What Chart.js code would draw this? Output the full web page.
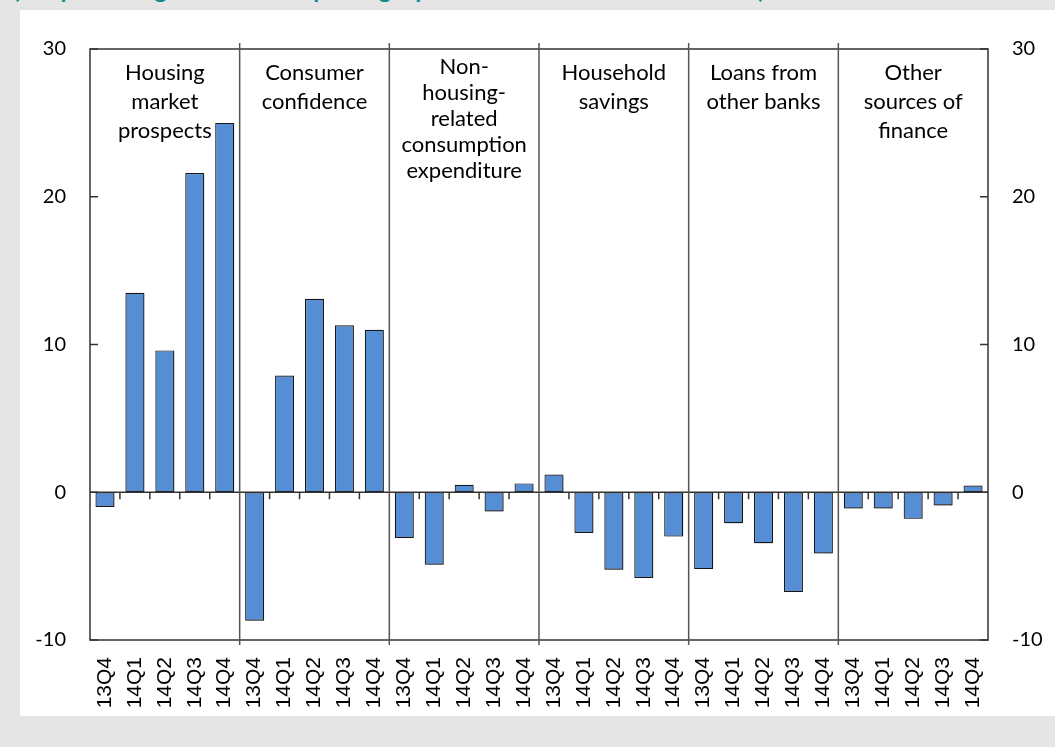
<!DOCTYPE html>
<html>
<head>
<meta charset="utf-8">
<script src="https://cdn.jsdelivr.net/npm/chart.js@4.4.0/dist/chart.umd.min.js"></script>
<style>
  html, body { margin: 0; padding: 0; }
  body { width: 1055px; height: 747px; background: #e5e5e5; position: relative; overflow: hidden; }
  #title { position: absolute; left: 13px; top: -23px; font: bold 24px Lato, sans-serif; line-height: 24px; color: #14898c; white-space: nowrap; }
  #panel { position: absolute; left: 20px; top: 10px; width: 1035px; height: 706px; background: #fff; }
</style>
</head>
<body>
<div id="title">(net percentages of banks reporting a positive contribution to demand)</div>
<div id="panel"><canvas id="chart" width="1035" height="706"></canvas></div>
<script>
// quarters repeat inside every factor group
const quarters = ['13Q4', '14Q1', '14Q2', '14Q3', '14Q4'];
const groupNames = [
    ['Housing', 'market', 'prospects'],
    ['Consumer', 'confidence'],
    ['Non-', 'housing-', 'related', 'consumption', 'expenditure'],
    ['Household', 'savings'],
    ['Loans from', 'other banks'],
    ['Other', 'sources of', 'finance']
];
const housingProspects = [-1.0, 13.5, 9.6, 21.6, 25.0];
const consumerConfidence = [-8.7, 7.9, 13.1, 11.3, 11.0];
const nonHousingConsumption = [-3.1, -4.9, 0.5, -1.3, 0.6];
const householdSavings = [1.2, -2.75, -5.25, -5.8, -3.0];
const loansOtherBanks = [-5.2, -2.1, -3.45, -6.75, -4.15];
const otherFinance = [-1.1, -1.1, -1.8, -0.9, 0.45];
const yTicks = [-10, 0, 10, 20, 30];

const groups = [housingProspects, consumerConfidence, nonHousingConsumption,
    householdSavings, loansOtherBanks, otherFinance];
const labels = groups.flatMap(() => quarters);
const values = groups.flat();

const AXIS = '#333333';

// inner tick marks, group separators, zero line and group titles
const decorPlugin = {
    id: 'decor',
    beforeDatasetsDraw(chart) {
        const ctx = chart.ctx;
        ctx.save();
        ctx.shadowColor = 'rgba(0,0,0,0.35)';
        ctx.shadowBlur = 3;
        ctx.shadowOffsetX = 1.5;
        ctx.shadowOffsetY = 1.5;
    },
    afterDatasetsDraw(chart) {
        const ctx = chart.ctx;
        ctx.restore();
        const a = chart.chartArea;
        const x = chart.scales.x;
        const y = chart.scales.y;
        const zero = y.getPixelForValue(0);
        const half = (x.getPixelForValue(1) - x.getPixelForValue(0)) / 2;

        ctx.save();
        ctx.strokeStyle = AXIS;
        ctx.lineWidth = 1.5;

        // plot box
        ctx.strokeRect(a.left, a.top, a.right - a.left, a.bottom - a.top);

        // zero line
        ctx.beginPath();
        ctx.moveTo(a.left, zero);
        ctx.lineTo(a.right, zero);
        ctx.stroke();

        // y ticks, inside on both sides
        yTicks.forEach(v => {
            const py = y.getPixelForValue(v);
            ctx.beginPath();
            ctx.moveTo(a.left, py); ctx.lineTo(a.left + 8, py);
            ctx.moveTo(a.right, py); ctx.lineTo(a.right - 8, py);
            ctx.stroke();
        });

        // category boundaries
        for (let i = 1; i < labels.length; i++) {
            const px = x.getPixelForValue(i) - half;
            ctx.beginPath();
            if (i % quarters.length === 0) {
                ctx.strokeStyle = '#555555';
                ctx.moveTo(px, a.top - 6);
                ctx.lineTo(px, a.bottom + 5);
            } else {
                ctx.strokeStyle = AXIS;
                ctx.moveTo(px, zero);
                ctx.lineTo(px, zero + 7);
            }
            ctx.stroke();
        }

        // group titles
        ctx.fillStyle = '#000';
        ctx.font = '22px Lato';
        ctx.textAlign = 'center';
        ctx.textBaseline = 'alphabetic';
        groupNames.forEach((lines, g) => {
            const first = g * quarters.length;
            const cx = (x.getPixelForValue(first) + x.getPixelForValue(first + quarters.length - 1)) / 2;
            const tall = lines.length > 3;
            const top = tall ? a.top + 25 : a.top + 31;
            const step = tall ? 26 : 29;
            lines.forEach((t, k) => ctx.fillText(t, cx, top + k * step));
        });
        ctx.restore();
    }
};

const tickFont = { family: 'Lato', size: 20 };

new Chart(document.getElementById('chart'), {
    type: 'bar',
    data: {
        labels: labels,
        datasets: [{
            data: values,
            backgroundColor: '#558ed5',
            borderColor: '#1a1a1a',
            borderWidth: 1.2,
            borderSkipped: false,
            barPercentage: 0.635,
            categoryPercentage: 1.0
        }]
    },
    options: {
        responsive: false,
        animation: false,
        layout: { padding: { top: 39, left: 0, right: 0, bottom: 0 } },
        plugins: {
            legend: { display: false },
            tooltip: { enabled: false }
        },
        scales: {
            x: {
                grid: { display: false, drawTicks: false },
                border: { display: false },
                ticks: {
                    autoSkip: false,
                    maxRotation: 90,
                    minRotation: 90,
                    padding: 17,
                    color: '#000',
                    font: { family: 'Liberation Sans', size: 21 }
                },
                afterFit(s) { s.height = 76; }
            },
            y: {
                position: 'left',
                min: -10,
                max: 30,
                grid: { display: false, drawTicks: false },
                border: { display: false },
                ticks: { stepSize: 10, padding: 24, color: '#000', font: tickFont },
                afterFit(s) { s.width = 70; }
            },
            y2: {
                position: 'right',
                min: -10,
                max: 30,
                grid: { display: false, drawTicks: false },
                border: { display: false },
                ticks: { stepSize: 10, padding: 24, color: '#000', font: tickFont },
                afterFit(s) { s.width = 67; }
            }
        }
    },
    plugins: [decorPlugin]
});
</script>
</body>
</html>
